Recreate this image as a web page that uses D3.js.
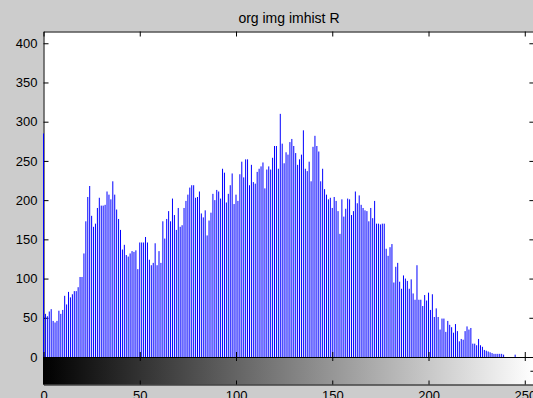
<!DOCTYPE html>
<html>
<head>
<meta charset="utf-8">
<script src="https://cdn.jsdelivr.net/npm/d3@7/dist/d3.min.js"></script>
<style>
  html, body { margin: 0; padding: 0; background: #cccccc; }
  svg { display: block; }
  .tick text, .title { font-family: "Liberation Sans", Arial, sans-serif; fill: #000; }
</style>
</head>
<body>
<div id="chart"></div>
<script>
// imhist counts for bins 0..255
const counts = [
  285, 55, 52, 58, 61, 46, 44, 46, 59, 55,
  60, 78, 67, 83, 76, 80, 84, 84, 89, 102,
  102, 132, 173, 204, 218, 180, 166, 170, 190, 203,
  193, 193, 194, 211, 207, 201, 224, 207, 188, 176,
  162, 137, 143, 130, 128, 132, 135, 134, 136, 112,
  146, 146, 146, 153, 146, 124, 117, 120, 145, 117,
  135, 120, 173, 151, 176, 186, 173, 202, 181, 162,
  190, 166, 168, 190, 199, 207, 216, 219, 219, 203,
  204, 211, 183, 178, 187, 155, 174, 184, 208, 200,
  213, 211, 202, 240, 235, 197, 208, 219, 234, 195,
  207, 199, 233, 249, 229, 252, 252, 219, 245, 223,
  221, 236, 240, 243, 248, 215, 239, 243, 239, 254,
  269, 269, 240, 310, 272, 247, 261, 258, 274, 278,
  269, 260, 245, 252, 258, 289, 240, 237, 249, 224,
  268, 282, 269, 262, 224, 240, 214, 207, 201, 203,
  190, 204, 199, 186, 157, 201, 179, 189, 202, 201,
  181, 186, 211, 196, 206, 194, 190, 187, 186, 173,
  190, 177, 199, 170, 170, 169, 170, 170, 138, 129,
  140, 144, 95, 115, 120, 96, 87, 104, 100, 97,
  87, 99, 81, 73, 117, 73, 73, 65, 79, 72,
  82, 60, 80, 51, 62, 51, 35, 49, 49, 32,
  46, 41, 38, 31, 42, 33, 20, 23, 22, 33,
  39, 35, 37, 17, 17, 15, 23, 15, 13, 9,
  8, 7, 6, 5, 4, 4, 4, 4, 4, 3,
  0, 0, 0, 0, 0, 3, 0, 0, 0, 0,
  0, 0, 0, 0, 0, 0
];
const bins = d3.range(counts.length);
const xTicks = [0, 50, 100, 150, 200, 250];
const yTicks = [0, 50, 100, 150, 200, 250, 300, 350, 400];
const title = "org img imhist R";

const W = 533, H = 398;

// main axes box
const axLeft = 43.5, axRight = 534.4, axTop = 31.5, axBase = 357;
// colour bar under the histogram
const barBottom = 384.5;

const x = d3.scaleLinear().domain([0, 255]).range([axLeft, axRight]);
const y = d3.scaleLinear().domain([0, 415]).range([axBase, axTop]);

const svg = d3.select("#chart").append("svg")
    .attr("width", W)
    .attr("height", H);

// white plot area
svg.append("rect")
    .attr("x", axLeft).attr("y", axTop)
    .attr("width", axRight - axLeft).attr("height", axBase - axTop)
    .attr("fill", "#fff");

// gray ramp
const grad = svg.append("defs").append("linearGradient")
    .attr("id", "ramp")
    .attr("gradientUnits", "userSpaceOnUse")
    .attr("x1", x(0)).attr("x2", x(255))
    .attr("y1", 0).attr("y2", 0);
grad.append("stop").attr("offset", "0%").attr("stop-color", "#000");
grad.append("stop").attr("offset", "100%").attr("stop-color", "#fff");

svg.append("rect")
    .attr("x", axLeft).attr("y", axBase)
    .attr("width", axRight - axLeft).attr("height", barBottom - axBase)
    .attr("fill", "url(#ramp)");

function style(g) {
    g.selectAll(".domain").attr("stroke", "#000");
    g.selectAll(".tick line").attr("stroke", "#000");
    g.selectAll(".tick text").attr("font-size", 13);
}

// y axis with labels (ticks point inside)
svg.append("g")
    .attr("transform", "translate(" + axLeft + ",0)")
    .call(d3.axisLeft(y).tickValues(yTicks).tickSizeInner(-5).tickSizeOuter(0).tickPadding(6))
    .call(style);

// right side ticks
svg.append("g")
    .attr("transform", "translate(" + axRight + ",0)")
    .call(d3.axisRight(y).tickValues(yTicks).tickSizeInner(-5).tickSizeOuter(0).tickFormat(""))
    .call(style);

// top ticks
svg.append("g")
    .attr("transform", "translate(0," + axTop + ")")
    .call(d3.axisTop(x).tickValues(xTicks).tickSizeInner(-5).tickSizeOuter(0).tickFormat(""))
    .call(style);

// stems
svg.append("g")
    .selectAll("line")
    .data(bins)
    .join("line")
    .attr("x1", d => x(d))
    .attr("x2", d => x(d))
    .attr("y1", y(0))
    .attr("y2", d => y(counts[d]))
    .attr("stroke", "#0000ff")
    .attr("stroke-width", 1);

// bottom of the histogram axes, ticks pointing up
svg.append("g")
    .attr("transform", "translate(0," + axBase + ")")
    .call(d3.axisBottom(x).tickValues(xTicks).tickSizeInner(-5).tickSizeOuter(0).tickFormat(""))
    .call(style);

// colour bar ticks and labels
svg.append("g")
    .attr("transform", "translate(0," + axBase + ")")
    .call(d3.axisTop(x).tickValues(xTicks).tickSizeInner(-4).tickSizeOuter(0).tickFormat(""))
    .call(style);

svg.append("g")
    .attr("transform", "translate(0," + barBottom + ")")
    .call(d3.axisBottom(x).tickValues(xTicks).tickSizeInner(-4).tickSizeOuter(0).tickPadding(6))
    .call(style);

const yBar = d3.scaleLinear().domain([0, 1]).range([barBottom, axBase]);
svg.append("g")
    .attr("transform", "translate(" + axRight + ",0)")
    .call(d3.axisRight(yBar).tickValues([0.5]).tickSizeInner(-4).tickSizeOuter(0).tickFormat(""))
    .call(style);
svg.append("line")
    .attr("x1", axLeft).attr("x2", axLeft)
    .attr("y1", axBase).attr("y2", barBottom)
    .attr("stroke", "#000");

// title
svg.append("text")
    .attr("class", "title")
    .attr("x", (axLeft + axRight) / 2)
    .attr("y", 23)
    .attr("text-anchor", "middle")
    .attr("font-size", 14)
    .text(title);
</script>
</body>
</html>
